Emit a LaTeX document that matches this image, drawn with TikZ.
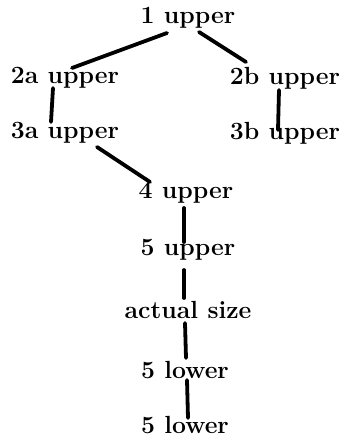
\documentclass[tikz,border=0pt]{standalone}
\usepackage{tikz}

\begin{document}
\begin{tikzpicture}[x=0.5pt, y=0.5pt, node distance = {27.5pt},
	main/.style = {inner sep=0pt, font=\fontsize{12.4}{14}\selectfont\bfseries},
	link/.style = {line width=1.9pt, line cap=round}]
	\useasboundingbox (0,0) rectangle (344,-444);
	\node[main] (1) at (188,-18) {1 upper};
	\node[main] (2a) at (65,-78) {2a upper};
	\node[main] (2b) at (285,-78) {2b upper};
	\node[main] (3a) [below of=2a] {3a upper};
	\node[main] (3b) [below of=2b] {3b upper};
	\node[main] (4) at (186,-193) {4 upper};
	\node[main] (5) at (188,-250) {5 upper};
	\node[main] (6) at (188,-310) {actual size};
	\node[main] (7) at (185,-370) {5 lower};
	\node[main] (8) at (185,-425) {5 lower};
	\draw[link] ([shift={(-21,-15)}]1.center) -- ([shift={(7,10)}]2a.center);
	\draw[link] ([shift={(11,-14)}]1.center) -- ([shift={(-39,16)}]2b.center);
	\draw[link] ([shift={(-12,-10)}]2a.center) -- ([shift={(-14,11)}]3a.center);
	\draw[link] ([shift={(-6,-12)}]2b.center) -- ([shift={(-7,3)}]3b.center);
	\draw[link] ([shift={(32,-14)}]3a.center) -- ([shift={(-36,11)}]4.center);
	\draw[link] ([shift={(-2,-15)}]4.center) -- ([shift={(-4,8)}]5.center);
	\draw[link] ([shift={(-4,-20)}]5.center) -- ([shift={(-4,12)}]6.center);
	\draw[link] ([shift={(-3,-13)}]6.center) -- ([shift={(1,12)}]7.center);
	\draw[link] ([shift={(2,-10)}]7.center) -- ([shift={(3,7)}]8.center);
\end{tikzpicture}
\end{document}
